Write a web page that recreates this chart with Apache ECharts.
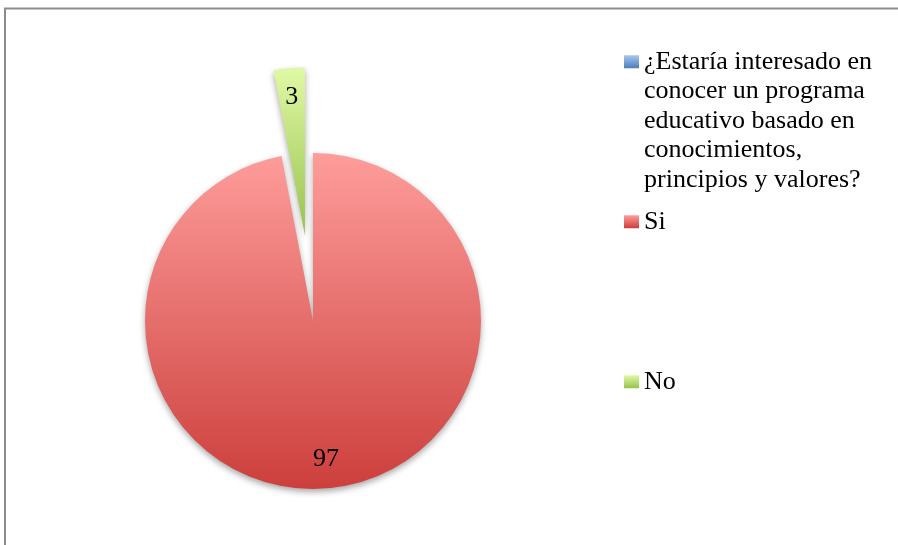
<!DOCTYPE html>
<html>
<head>
<meta charset="utf-8">
<script src="https://cdn.jsdelivr.net/npm/echarts@6/dist/echarts.min.js"></script>
<style>
  html, body { margin: 0; padding: 0; background: #fff; }
  #chart { width: 898px; height: 545px; }
</style>
</head>
<body>
<div id="chart"></div>
<script>
// series name (Excel-style) and slices
const seriesName = '¿Estaría interesado en conocer un programa educativo basado en conocimientos, principios y valores?';
const categories = ['Si', 'No'];
const values = [97, 3];

const FONT = '"Liberation Serif", "DejaVu Serif", serif';

function grad(top, bottom, end) {
    return new echarts.graphic.LinearGradient(0, 0, 0, end || 1, [
        {offset: 0, color: top},
        {offset: 1, color: bottom}
    ]);
}
const sliceColors = {
    'Si': ['#fe9d9b', '#cc3f3c'],
    'No': ['#e0f9a6', '#98c24c']
};
const blue = ['#a9c6ef', '#4a7ebb'];

// wrap the long question the way the legend shows it
function wrapLegend(name) {
    if (name !== seriesName) return name;
    return '¿Estaría interesado en\nconocer un programa\neducativo basado en\nconocimientos,\nprincipios y valores?';
}

let pieData = categories.map((c, i) => ({
    name: c,
    value: values[i],
    selected: c === 'No',
    itemStyle: {color: grad(sliceColors[c][0], sliceColors[c][1])}
}));
// same slices, transparent, only used to place the value labels further out
let labelData = categories.map((c, i) => ({
    name: c,
    value: values[i],
    selected: c === 'No'
}));

let legendBase = {
    orient: 'vertical',
    left: 624,
    padding: 0,
    itemWidth: 15,
    itemHeight: 13,
    itemGap: 7,
    icon: 'rect',
    selectedMode: false,
    textStyle: {fontFamily: FONT, fontSize: 26, color: '#000', lineHeight: 29.5}
};

let myChart = echarts.init(document.getElementById('chart'));
myChart.setOption({
    backgroundColor: '#fff',
    animation: false,
    graphic: [{
        type: 'polyline',
        shape: {points: [[5, 560], [5, 8.5], [910, 8.5]]},
        style: {stroke: '#8c8c8c', lineWidth: 2, fill: null},
        silent: true
    }],
    legend: [
        // tall icon box with the square at its top, so the square sits on the first text line
        Object.assign({}, legendBase, {
            top: 47,
            itemHeight: 131,
            icon: 'path://M0,0L15,0L15,13L0,13Z M0,131L0.01,131',
            data: [{name: seriesName, itemStyle: {color: grad(blue[0], blue[1], 13 / 131)}}],
            formatter: wrapLegend
        }),
        Object.assign({}, legendBase, {
            top: 207,
            data: [{name: 'Si', itemStyle: {color: grad(sliceColors.Si[0], sliceColors.Si[1])}}]
        }),
        Object.assign({}, legendBase, {
            top: 367,
            data: [{name: 'No', itemStyle: {color: grad(sliceColors.No[0], sliceColors.No[1])}}]
        })
    ],
    series: [
        {
            name: seriesName,
            type: 'pie',
            center: [313, 321],
            radius: [0, 168],
            startAngle: 90,
            selectedMode: 'single',
            selectedOffset: 86,
            avoidLabelOverlap: false,
            label: {show: false},
            labelLine: {show: false},
            itemStyle: {
                shadowBlur: 6,
                shadowOffsetY: 3,
                shadowColor: 'rgba(0,0,0,0.35)'
            },
            emphasis: {disabled: true},
            data: pieData
        },
        {
            name: 'labels',
            type: 'pie',
            center: [313, 321],
            radius: [104, 168],
            startAngle: 90,
            selectedMode: 'single',
            selectedOffset: 86,
            silent: true,
            avoidLabelOverlap: false,
            itemStyle: {color: 'rgba(0,0,0,0)'},
            label: {
                show: true,
                position: 'inside',
                formatter: '{c}',
                fontFamily: FONT,
                fontSize: 26,
                color: '#000'
            },
            labelLine: {show: false},
            emphasis: {disabled: true},
            data: labelData
        }
    ]
});
</script>
</body>
</html>
